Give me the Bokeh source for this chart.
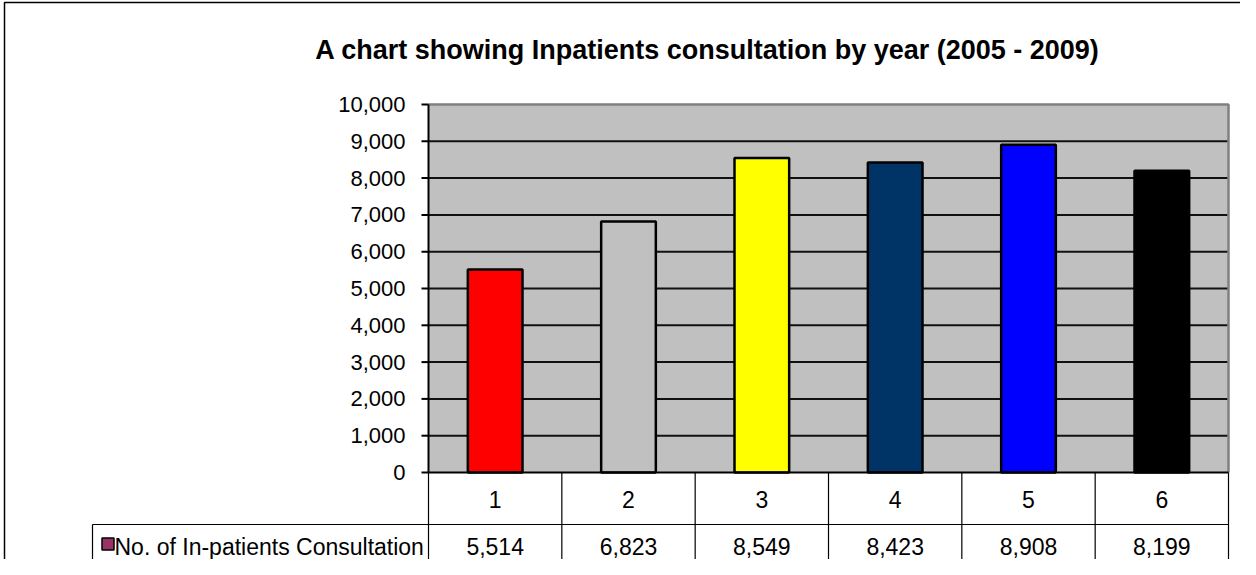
from bokeh.plotting import figure
from bokeh.models import ColumnDataSource, Range1d
from bokeh.core.properties import value
from bokeh.embed import file_html
from bokeh.resources import INLINE

# ---- data ----
title_text = "A chart showing Inpatients consultation by year (2005 - 2009)"
series_name = "No. of In-patients Consultation"
categories = ["1", "2", "3", "4", "5", "6"]
consultations = [5514, 6823, 8549, 8423, 8908, 8199]
bar_colors = ["#FF0000", "#C0C0C0", "#FFFF00", "#003366", "#0000FF", "#000000"]
y_ticks = [0, 1000, 2000, 3000, 4000, 5000, 6000, 7000, 8000, 9000, 10000]
y_max = 10000

# ---- layout helpers (screen pixel -> data units) ----
W, H = 1240, 559
OFF = 8                      # page margin
PLOT_L, PLOT_R = 436, 1236   # plot area, page px
PLOT_T, PLOT_B = 112, 480
n = len(categories)
COL_W = (PLOT_R - PLOT_L) / n
Y_PER_PX = y_max / (PLOT_B - PLOT_T)

def dx(sx):
    return 0.5 + (sx - PLOT_L) / COL_W

def dy(sy):
    return (PLOT_B - sy) * Y_PER_PX

x0, x1 = dx(OFF), dx(OFF + W)
y0, y1 = dy(OFF + H), dy(OFF)

p = figure(width=W, height=H, output_backend="svg", toolbar_location=None,
           x_range=Range1d(x0, x1), y_range=Range1d(y0, y1),
           x_axis_location=None, y_axis_location=None,
           min_border=0, min_border_left=0, min_border_right=0,
           min_border_top=0, min_border_bottom=0)
p.outline_line_color = None
p.grid.visible = False
p.background_fill_color = "white"
p.border_fill_color = "white"

FONT = value("Liberation Sans")
xs = list(range(1, n + 1))
left_edge, right_edge = 0.5, n + 0.5

# plot area background
p.quad(left=[left_edge], right=[right_edge], bottom=[0], top=[y_max],
       fill_color="#C0C0C0", line_color=None)

# gridlines
grid_vals = [t for t in y_ticks if 0 < t < y_max]
p.segment(x0=[left_edge] * len(grid_vals), x1=[right_edge] * len(grid_vals),
          y0=grid_vals, y1=grid_vals, line_color="#111111", line_width=2)
# plot-area border (top/right) grey
p.line([left_edge, right_edge, right_edge], [y_max, y_max, 0],
       line_color="#808080", line_width=2.5)

# bars
src = ColumnDataSource(dict(x=xs, top=consultations, color=bar_colors,
                            cat=categories,
                            lab=[f"{v:,}" for v in consultations]))
p.vbar(x="x", top="top", bottom=0, width=0.41, source=src,
       fill_color="color", line_color="#000000", line_width=2.5)

# y axis line, ticks, labels
p.line([left_edge, left_edge], [0, y_max], line_color="#000000", line_width=2)
tick_len = 7 / COL_W
p.segment(x0=[left_edge - tick_len] * len(y_ticks), x1=[left_edge] * len(y_ticks),
          y0=y_ticks, y1=y_ticks, line_color="#000000", line_width=2)
p.text(x=[left_edge - 23 / COL_W] * len(y_ticks), y=y_ticks,
       text=[f"{t:,}" for t in y_ticks], text_font=FONT, text_font_size="22px",
       text_align="right", text_baseline="middle", text_color="#000000")

# zero line
p.segment(x0=[left_edge], x1=[right_edge], y0=[0], y1=[0],
          line_color="#000000", line_width=2)

# data table
row2_top = dy(532)
cell_left = dx(100)
p.segment(x0=[cell_left], x1=[right_edge], y0=[row2_top], y1=[row2_top],
          line_color="#000000", line_width=1.2)
col_bounds = [i + 0.5 for i in range(0, n + 1)]
p.segment(x0=col_bounds, x1=col_bounds, y0=[y0] * len(col_bounds),
          y1=[0] * len(col_bounds), line_color="#000000", line_width=1.2)
p.segment(x0=[cell_left], x1=[cell_left], y0=[y0], y1=[row2_top],
          line_color="#000000", line_width=1.2)

p.text(x="x", y=dy(507), text="cat", source=src, text_font=FONT,
       text_font_size="23px", text_align="center", text_baseline="middle",
       text_color="#000000")
p.text(x="x", y=dy(554), text="lab", source=src, text_font=FONT,
       text_font_size="23px", text_align="center", text_baseline="middle",
       text_color="#000000")

# legend key + series name
p.rect(x=[dx(115.5)], y=[dy(551.5)], width=12, height=12,
       width_units="screen", height_units="screen",
       fill_color="#993366", line_color="#000000", line_width=1.5)
p.text(x=[dx(122)], y=[dy(554)], text=[series_name], text_font=FONT,
       text_font_size="23px", text_align="left", text_baseline="middle",
       text_color="#000000")

# title
p.text(x=[dx(715)], y=[dy(57)], text=[title_text], text_font=FONT,
       text_font_size="27px", text_font_style="bold", text_align="center",
       text_baseline="middle", text_color="#000000")

# outer chart border (left / top)
bx, by = dx(12), dy(10)
p.line([bx, bx, x1], [y0, by, by], line_color="#000000", line_width=1.5)

open("out.html", "w").write(file_html(p, INLINE))
